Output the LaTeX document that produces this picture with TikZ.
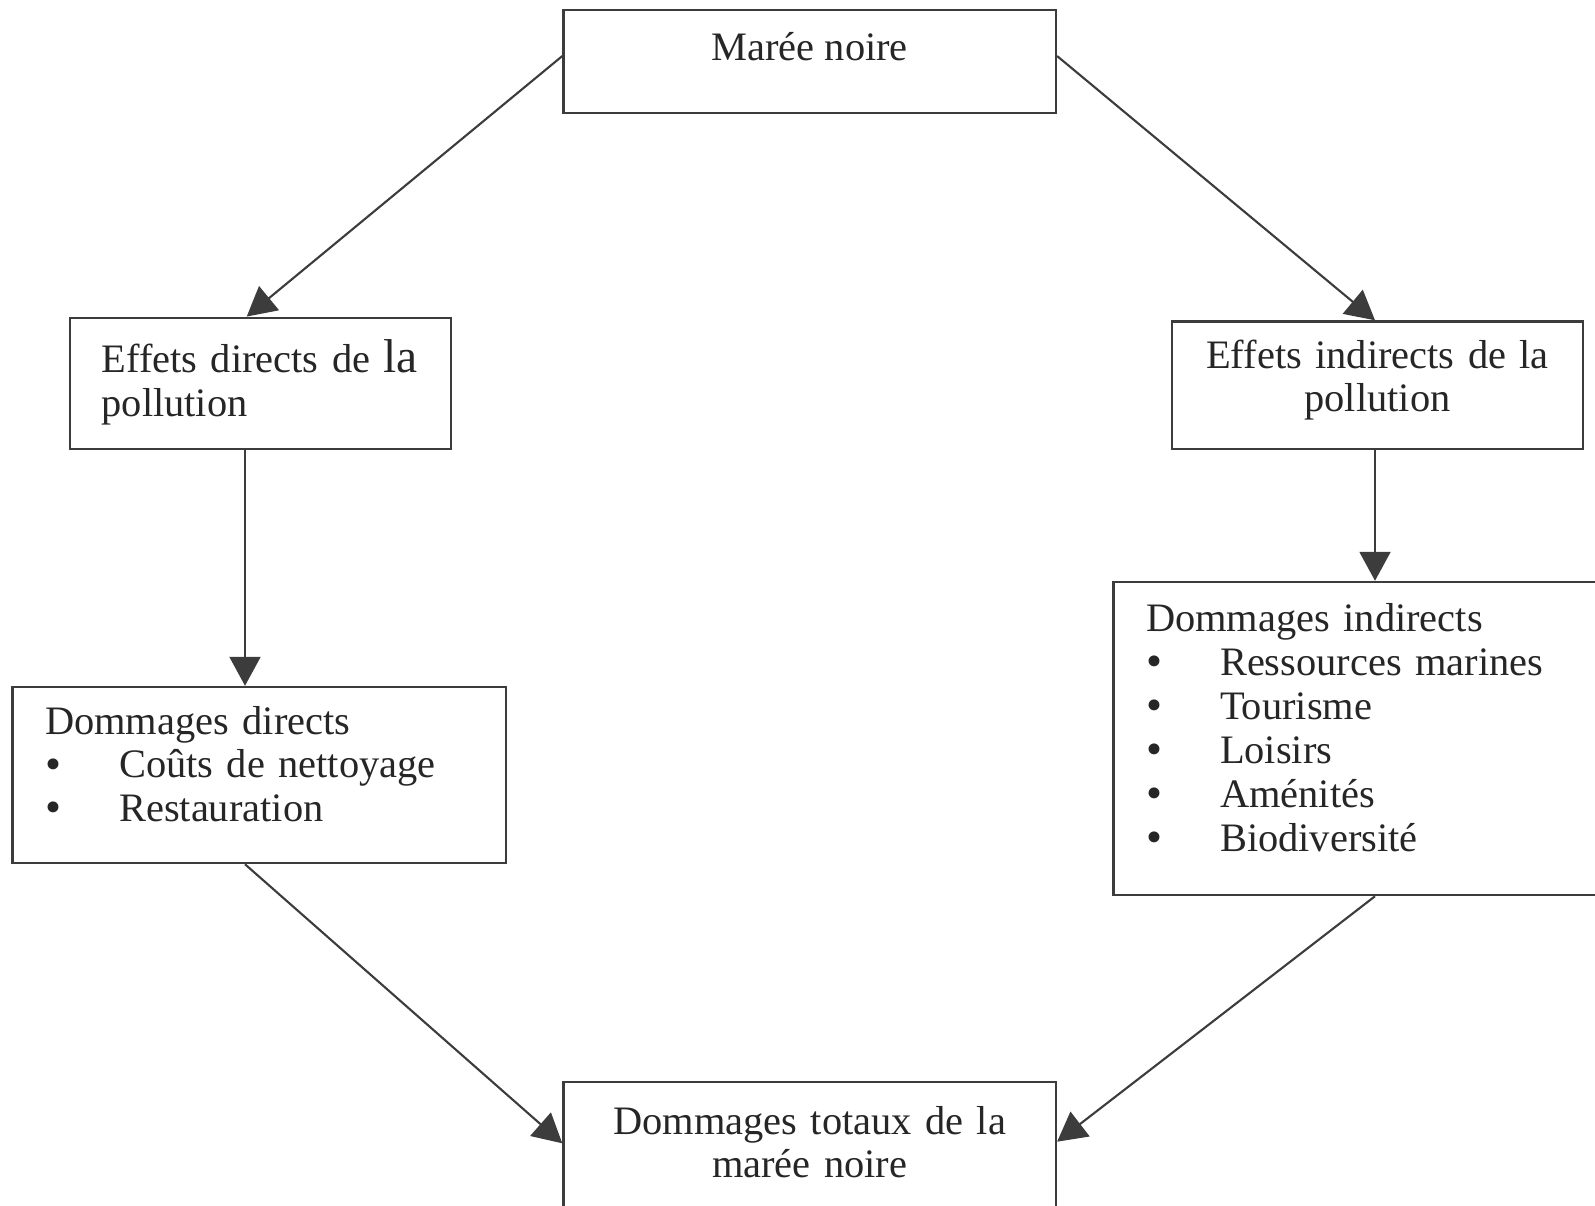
\documentclass[tikz,border=0pt]{standalone}
\usepackage{fontspec}
\setmainfont{Liberation Serif}
\usetikzlibrary{arrows.meta}
\definecolor{linegray}{HTML}{3C3C3C}
\definecolor{textgray}{HTML}{262626}
\newcommand{\puce}[1]{\makebox[7.4mm][l]{\raisebox{-0.3pt}{\fontsize{13}{12.5}\selectfont\textbullet}}#1}
\begin{document}
\begin{tikzpicture}[x=0.1mm,y=-0.1mm,
   box/.style={draw=linegray, line width=0.7pt, inner ysep=0pt, anchor=base,
     text=textgray, font=\fontsize{11.5}{12.5}\selectfont},
   fleche/.style={draw=linegray, line width=0.6pt,
     -{Triangle[length=2.9mm,width=3.1mm]}}]
   \useasboundingbox (0,0) rectangle (1595,1205);
   \clip (0,0) rectangle (1595,1205);
   % boites
   \node[box, minimum width=49.24mm, inner xsep=0pt, text height=4.98mm, text depth=5.29mm] (maree) at (809.7,60) {Marée noire};
   \node[box, align=left, text width=31.77mm, inner xsep=3.16mm, text height=5.49mm, text depth=7.61mm] (effdir) at (260.5,372.7)
     {Effets directs de {\fontsize{13.5}{12.5}\selectfont la}\\pollution};
   \node[box, align=center, text width=39.1mm, inner xsep=1mm, text height=4.65mm, text depth=8.08mm] (effind) at (1377.5,368)
     {Effets indirects de la\\pollution};
   \node[box, align=left, text width=42.81mm, inner xsep=3.27mm, text height=4.7mm, text depth=12.9mm] (domdir) at (259.2,734)
     {Dommages directs\\\puce{Coûts de nettoyage}\\\puce{Restauration}};
   \node[box, align=left, text width=44.63mm, inner xsep=3.27mm, text height=4.97mm, text depth=26.33mm] (domind) at (1369.2,631.7)
     {Dommages indirects\\\puce{Ressources marines}\\\puce{Tourisme}\\\puce{Loisirs}\\\puce{Aménités}\\\puce{Biodiversité}};
   \node[box, align=center, text width=47.24mm, inner xsep=1mm, text height=5.2mm, text depth=9.6mm] (domtot) at (809.7,1134)
     {Dommages totaux de la\\marée noire};
   % fleches
   \coordinate (d1) at ([xshift=-1.55mm]effdir.south);
   \coordinate (d2) at ([xshift=-0.25mm]effind.south);
   \draw[fleche] ([yshift=0.55mm]maree.west) -- ([xshift=-1.38mm]effdir.north);
   \draw[fleche] ([yshift=0.55mm]maree.east) -- ([xshift=-0.25mm]effind.north);
   \draw[fleche] (d1) -- (d1 |- domdir.north);
   \draw[fleche] (d2) -- (d2 |- domind.north);
   \draw[fleche] ([xshift=-1.42mm]domdir.south) -- ([yshift=1.27mm]domtot.west);
   \draw[fleche] ([xshift=0.58mm]domind.south) -- ([yshift=1.43mm]domtot.east);
\end{tikzpicture}
\end{document}
